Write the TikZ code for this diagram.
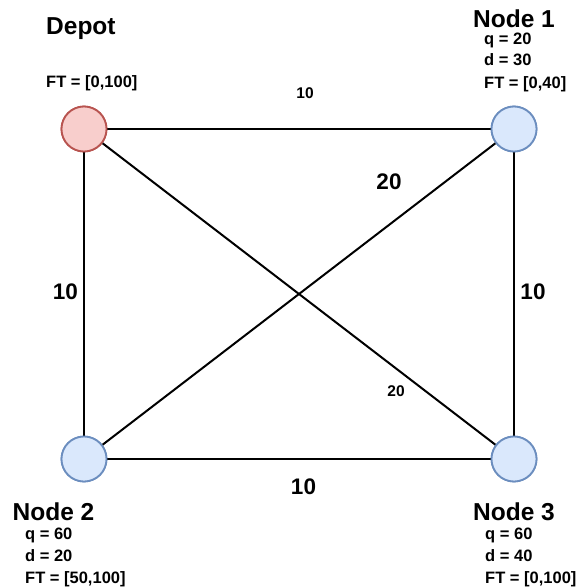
\documentclass[tikz,border=0pt]{standalone}
\usepackage{fontspec}
\setmainfont{Liberation Sans}
\definecolor{depfill}{HTML}{F8CECC}
\definecolor{depdraw}{HTML}{B85450}
\definecolor{cusfill}{HTML}{DAE8FC}
\definecolor{cusdraw}{HTML}{6C8EBF}
\begin{document}
\begin{tikzpicture}[x=1pt,y=-1pt,
  vert/.style={circle,minimum size=45pt,inner sep=0pt,line width=1.8pt},
  depot/.style={vert,fill=depfill,draw=depdraw},
  cust/.style={vert,fill=cusfill,draw=cusdraw},
  edge/.style={line width=2pt,black},
  title/.style={anchor=base west,inner sep=0pt,font=\bfseries\fontsize{24.5}{29}\selectfont},
  attr/.style={anchor=base west,inner sep=0pt,font=\bfseries\fontsize{16.5}{20}\selectfont},
  wbig/.style={inner sep=0pt,font=\bfseries\fontsize{22.5}{27}\selectfont},
  wsmall/.style={inner sep=0pt,font=\bfseries\fontsize{15.5}{19}\selectfont}]
\useasboundingbox (0,0) rectangle (581,588);
% vertices
\node[depot] (dep) at (84,129) {};
\node[cust] (n1) at (514,129) {};
\node[cust] (n2) at (84,459) {};
\node[cust] (n3) at (514,459) {};
% edges
\draw[edge] (dep) -- (n1);
\draw[edge] (dep) -- (n2);
\draw[edge] (n1) -- (n3);
\draw[edge] (n2) -- (n3);
\draw[edge] (dep) -- (n3);
\draw[edge] (n1) -- (n2);
% redraw vertices on top
\node[depot] at (dep) {};
\node[cust] at (n1) {};
\node[cust] at (n2) {};
\node[cust] at (n3) {};
% edge weights
\node[wsmall] (w01) at (305,93) {10};
\node[wbig] (w02) at (65.5,291.5) {10};
\node[wbig] (w13) at (533,292) {10};
\node[wbig] (w23) at (303.5,487) {10};
\node[wbig] (w12) at (389,181.5) {20};
\node[wsmall] (w03) at (396,391) {20};
% depot labels
\node[title] (tdep) at (46,35) {Depot};
\node[attr] (ftdep) at (46,88) {FT = [0,100]};
% node 1 labels
\node[title] (t1) at (473,28) {Node 1};
\node[attr] (q1) at (484,45) {q = 20};
\node[attr] (d1) at (484,66) {d = 30};
\node[attr] (f1) at (484,88.5) {FT = [0,40]};
% node 2 labels
\node[title] (t2) at (12.5,520) {Node 2};
\node[attr] (q2) at (25,539.5) {q = 60};
\node[attr] (d2) at (25,561) {d = 20};
\node[attr] (f2) at (25,583) {FT = [50,100]};
% node 3 labels
\node[title] (t3) at (473,520) {Node 3};
\node[attr] (q3) at (485,539.5) {q = 60};
\node[attr] (d3) at (485,561) {d = 40};
\node[attr] (f3) at (485,583) {FT = [0,100]};
\end{tikzpicture}
\end{document}
